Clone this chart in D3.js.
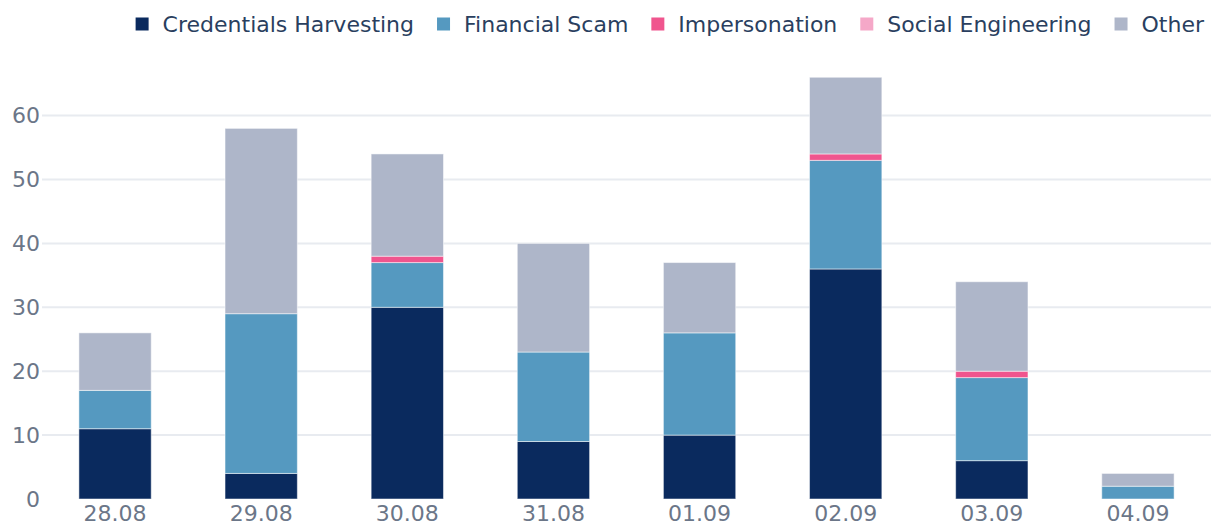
<!DOCTYPE html>
<html><head><meta charset="utf-8">
<script src="https://cdn.jsdelivr.net/npm/d3@7"></script>
<style>body{margin:0;background:#fff;font-family:"DejaVu Sans",sans-serif;}</style>
</head><body><svg id="c" width="1211" height="525"></svg>
<script>
const categories = ["28.08","29.08","30.08","31.08","01.09","02.09","03.09","04.09"];
const seriesNames = ["Credentials Harvesting","Financial Scam","Impersonation","Social Engineering","Other"];
const credentialsHarvesting = [11,4,30,9,10,36,6,0];
const financialScam = [6,25,7,14,16,17,13,2];
const impersonation = [0,0,1,0,0,1,1,0];
const socialEngineering = [0,0,0,0,0,0,0,0];
const other = [9,29,16,17,11,12,14,2];
const yTicks = [0,10,20,30,40,50,60];
const colors = ["#0a2a5e","#5599c0","#f0558e","#f5a8c8","#aeb6c9"];

const svg = d3.select("#c");
const m = {l:42, r:0, t:76, b:26};
const W = 1211, H = 525;
const FS = 22;
const x = d3.scaleBand().domain(categories).range([m.l, W]).paddingInner(0.505).paddingOuter(0.2525);
const y = d3.scaleLinear().domain([0,66]).range([499, 499-66*6.39]);

const rows = categories.map((c,i)=>({cat:c, "Credentials Harvesting":credentialsHarvesting[i], "Financial Scam":financialScam[i], "Impersonation":impersonation[i], "Social Engineering":socialEngineering[i], "Other":other[i]}));
const stack = d3.stack().keys(seriesNames)(rows);

// grid
svg.append("g").selectAll("line").data(yTicks.filter(d=>d>0)).join("line")
  .attr("x1", m.l).attr("x2", W).attr("y1", d=>y(d)).attr("y2", d=>y(d))
  .attr("stroke","#e8ebf0").attr("stroke-width",2);

// y axis
const ya = svg.append("g").attr("transform",`translate(${m.l},0)`).call(d3.axisLeft(y).tickValues(yTicks).tickSize(0).tickPadding(2));
ya.select(".domain").remove();
ya.selectAll("text").attr("font-family","DejaVu Sans").attr("font-size",FS).attr("fill","#6b7688");

// bars
svg.append("g").selectAll("g").data(stack).join("g").attr("fill",(d,i)=>colors[i])
  .selectAll("rect").data(d=>d.filter(s=>s[1]-s[0]>0)).join("rect")
  .attr("x", d=>x(d.data.cat)).attr("width", x.bandwidth())
  .attr("y", d=>y(d[1])).attr("height", d=>y(d[0])-y(d[1]))
  .attr("stroke","#ffffff").attr("stroke-opacity",0.5).attr("stroke-width",1);

// x axis
const xa = svg.append("g").attr("transform",`translate(0,${y(0)})`).call(d3.axisBottom(x).tickSize(0).tickPadding(6));
xa.select(".domain").remove();
xa.selectAll("text").attr("font-family","DejaVu Sans").attr("font-size",FS).attr("fill","#6b7688");

// legend, right-aligned
const lg = svg.append("g");
const items = lg.selectAll("g").data(seriesNames).join("g");
items.append("rect").attr("width",13).attr("height",13).attr("y",-6.5).attr("fill",(d,i)=>colors[i]);
items.append("text").attr("x",27).attr("dy","0.35em").text(d=>d)
  .attr("font-family","DejaVu Sans").attr("font-size",FS).attr("fill","#2a3f5f");
let cx = 0;
const pos = [];
items.each(function(d){ const w = this.querySelector("text").getComputedTextLength(); pos.push(cx); cx += 27 + w + 23; });
const total = cx - 23;
const startX = 1204 - total;
items.attr("transform",(d,i)=>`translate(${startX+pos[i]},24)`);
</script></body></html>
